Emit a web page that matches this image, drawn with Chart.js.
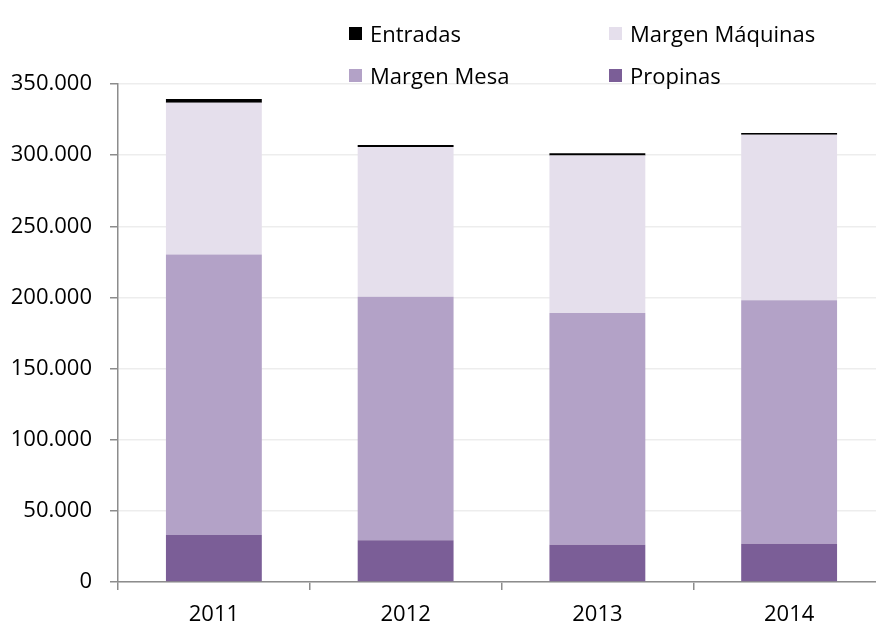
<!DOCTYPE html>
<html>
<head>
  <meta charset="utf-8">
  <title>Ingresos por año</title>
  <style>
    html, body { margin: 0; padding: 0; background: #fff; overflow: hidden; }
    #wrap { position: relative; width: 876px; height: 625px; overflow: hidden; }
    #chart { position: absolute; left: 0; top: 0; }
    .item { position: absolute; font-family: "Open Sans", sans-serif; font-size: 22px; color: #000; line-height: 26px; white-space: nowrap; }
    .item span { position: absolute; left: 0; top: 7px; width: 13px; height: 13px; }
    .item b { font-weight: normal; padding-left: 21px; }
  </style>
</head>
<body>
  <div id="wrap">
    <canvas id="chart" width="900" height="625"></canvas>
    <div id="legend"></div>
  </div>

  <script src="https://cdn.jsdelivr.net/npm/chart.js@4/dist/chart.umd.min.js"></script>
  <script>
    // years on the x axis
    var years = ["2011", "2012", "2013", "2014"];

    // values per series, bottom of the stack first
    var propinas = [33100, 29400, 26100, 26800];
    var margenMesa = [197100, 171000, 162900, 171300];
    var margenMaquinas = [106700, 105300, 110800, 116200];
    var entradas = [2600, 1500, 1500, 1200];

    var yTicks = [0, 50000, 100000, 150000, 200000, 250000, 300000, 350000];

    var axisGray = "#8c8c8c";

    function miles(v) {
      return String(v).replace(/\B(?=(\d{3})+(?!\d))/g, ".");
    }

    var chart = new Chart("chart", {
      type: "bar",
      data: {
        labels: years,
        datasets: [
          { label: "Propinas", data: propinas, backgroundColor: "#7b5e97" },
          { label: "Margen Mesa", data: margenMesa, backgroundColor: "#b3a2c7" },
          { label: "Margen Máquinas", data: margenMaquinas, backgroundColor: "#e5dfec" },
          { label: "Entradas", data: entradas, backgroundColor: "#000000" }
        ]
      },
      options: {
        responsive: false,
        animation: false,
        layout: { padding: { top: 84, right: 15, left: 0, bottom: 0 } },
        datasets: { bar: { categoryPercentage: 1, barPercentage: 0.5, borderWidth: 0 } },
        plugins: {
          legend: { display: false },
          tooltip: { enabled: false }
        },
        scales: {
          x: {
            stacked: true,
            border: { color: axisGray, width: 1.5 },
            grid: { offset: true, drawOnChartArea: false, drawTicks: true, tickLength: 8, tickColor: axisGray, lineWidth: 1.5 },
            ticks: { color: "#000", padding: 12, font: { family: "Open Sans", size: 22 } },
            afterFit: function (s) { s.height = 43; }
          },
          y: {
            stacked: true,
            min: 0,
            max: 350000,
            afterBuildTicks: function (s) { s.ticks = yTicks.map(function (v) { return { value: v }; }); },
            border: { color: axisGray, width: 1.5 },
            grid: { color: "#ededed", lineWidth: 1.5, tickLength: 8, tickColor: axisGray },
            ticks: {
              color: "#000",
              padding: 18,
              font: { family: "Open Sans", size: 22 },
              callback: function (v) { return miles(v); }
            },
            afterFit: function (s) { s.width = 118; }
          }
        }
      }
    });

    // legend in two columns, same order as the original (top of stack first)
    var spots = [[349, 20], [609, 20], [349, 62], [609, 62]];
    var html = "";
    chart.data.datasets.slice().reverse().forEach(function (ds, i) {
      html += '<div class="item" style="left:' + spots[i][0] + 'px;top:' + spots[i][1] + 'px">' +
        '<span style="background:' + ds.backgroundColor + '"></span><b>' + ds.label + '</b></div>';
    });
    document.getElementById("legend").innerHTML = html;
  </script>
</body>
</html>
